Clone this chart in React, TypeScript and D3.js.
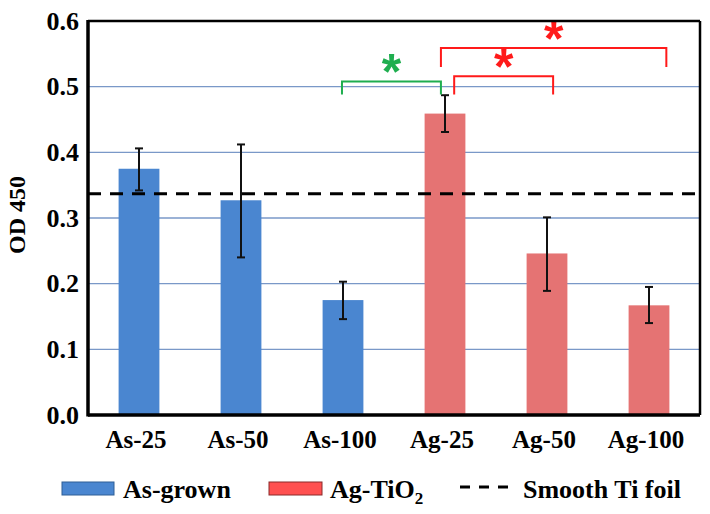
import React from "react";
import * as d3 from "d3";

const categories = ["As-25", "As-50", "As-100", "Ag-25", "Ag-50", "Ag-100"];
const groups = ["As-grown", "As-grown", "As-grown", "Ag-TiO2", "Ag-TiO2", "Ag-TiO2"];
const means = [0.375, 0.327, 0.175, 0.459, 0.246, 0.167];
const errLow = [0.342, 0.240, 0.146, 0.431, 0.189, 0.140];
const errHigh = [0.406, 0.412, 0.203, 0.487, 0.301, 0.195];
const smoothTi = 0.337;
const yTicks = [0.0, 0.1, 0.2, 0.3, 0.4, 0.5, 0.6];

// significance brackets: from/to category, offset as fraction of step, top value, foot value
const sigFrom = ["As-100", "Ag-25", "Ag-25"];
const sigTo = ["Ag-25", "Ag-50", "Ag-100"];
const sigFromOff = [-0.01, 0.09, -0.04];
const sigToOff = [-0.04, 0.06, 0.17];
const sigTop = [0.508, 0.516, 0.559];
const sigFoot = [0.488, 0.488, 0.53];
const sigColor = ["#1fae4f", "#ff1a1a", "#ff1a1a"];

const W = 710, H = 514;
const M = { left: 88, right: 10, top: 21, bottom: 99 };
const FONT = "'Liberation Serif', 'Times New Roman', serif";

export default function App() {
  const x = d3.scaleBand<string>().domain(categories).range([M.left, W - M.right]).paddingInner(0.6).paddingOuter(0.3);
  const y = d3.scaleLinear().domain([0, 0.6]).range([H - M.bottom, M.top]);
  const step = x.step();
  const cx = (c: string) => (x(c) as number) + x.bandwidth() / 2;
  const color = (g: string) => (g === "As-grown" ? "#4a86d0" : "#e57373");
  const y0 = y(0);

  return (
    <svg width={W} height={H} style={{ position: "absolute", left: 0, top: 0 }} fontFamily={FONT}>
      <rect x={0} y={0} width={W} height={H} fill="#fff" />
      {/* gridlines */}
      {yTicks.filter((t) => t > 0 && t < 0.6).map((t) => (
        <line key={t} x1={M.left} x2={W - M.right} y1={y(t)} y2={y(t)} stroke="#7a98c8" strokeWidth={1.3} />
      ))}
      {/* bars */}
      {categories.map((c, i) => (
        <rect key={c} x={x(c)} y={y(means[i])} width={x.bandwidth()} height={y0 - y(means[i])} fill={color(groups[i])} />
      ))}
      {/* smooth Ti dashed line */}
      <line x1={M.left} x2={W - M.right} y1={y(smoothTi)} y2={y(smoothTi)} stroke="#000" strokeWidth={3} strokeDasharray="13 9" />
      {/* error bars */}
      {categories.map((c, i) => {
        const xc = cx(c);
        return (
          <g key={c} stroke="#111" strokeWidth={2}>
            <line x1={xc} x2={xc} y1={y(errLow[i])} y2={y(errHigh[i])} />
            <line x1={xc - 4} x2={xc + 4} y1={y(errLow[i])} y2={y(errLow[i])} />
            <line x1={xc - 4} x2={xc + 4} y1={y(errHigh[i])} y2={y(errHigh[i])} />
          </g>
        );
      })}
      {/* significance brackets */}
      {sigFrom.map((f, i) => {
        const xa = cx(f) + sigFromOff[i] * step;
        const xb = cx(sigTo[i]) + sigToOff[i] * step;
        const yt = y(sigTop[i]);
        const yf = y(sigFoot[i]);
        return (
          <g key={i}>
            <path d={`M${xa},${yf}V${yt}H${xb}V${yf}`} fill="none" stroke={sigColor[i]} strokeWidth={2} />
            <text x={(xa + xb) / 2} y={yt + 8} textAnchor="middle" fontFamily="'Liberation Sans', Arial, sans-serif" fontWeight="bold" fontSize={50} fill={sigColor[i]}>*</text>
          </g>
        );
      })}
      {/* frame */}
      <line x1={M.left} x2={W - M.right} y1={M.top} y2={M.top} stroke="#000" strokeWidth={2.5} />
      <line x1={W - M.right} x2={W - M.right} y1={M.top} y2={y0} stroke="#000" strokeWidth={2.5} />
      <line x1={M.left} x2={M.left} y1={M.top - 1} y2={y0 + 1.5} stroke="#000" strokeWidth={3.5} />
      <line x1={M.left} x2={W - M.right} y1={y0} y2={y0} stroke="#000" strokeWidth={3.5} />
      {/* y ticks */}
      {yTicks.map((t) => (
        <text key={t} x={M.left - 9} y={y(t)} dy="0.33em" textAnchor="end" fontWeight="bold" fontSize={26}>{d3.format(".1f")(t)}</text>
      ))}
      {/* x labels */}
      {categories.map((c) => (
        <text key={c} x={cx(c) - 3} y={y0 + 33} textAnchor="middle" fontWeight="bold" fontSize={25}>{c}</text>
      ))}
      {/* y title */}
      <text transform={`translate(25,215) rotate(-90)`} textAnchor="middle" fontWeight="bold" fontSize={24}>OD 450</text>
      {/* legend */}
      <g fontWeight="bold" fontSize={26}>
        <rect x={62} y={482} width={52} height={13} fill="#4a86d0" stroke="#2f5f96" strokeWidth={1} />
        <text x={123} y={498}>As-grown</text>
        <rect x={269} y={482} width={53} height={13} fill="#ff5050" stroke="#8a2a2a" strokeWidth={1} />
        <text x={330} y={498}>Ag-TiO<tspan fontSize={17} dy={6}>2</tspan></text>
        <line x1={460} x2={509} y1={487} y2={487} stroke="#000" strokeWidth={3} strokeDasharray="10 9" />
        <text x={523} y={498}>Smooth Ti foil</text>
      </g>
    </svg>
  );
}
